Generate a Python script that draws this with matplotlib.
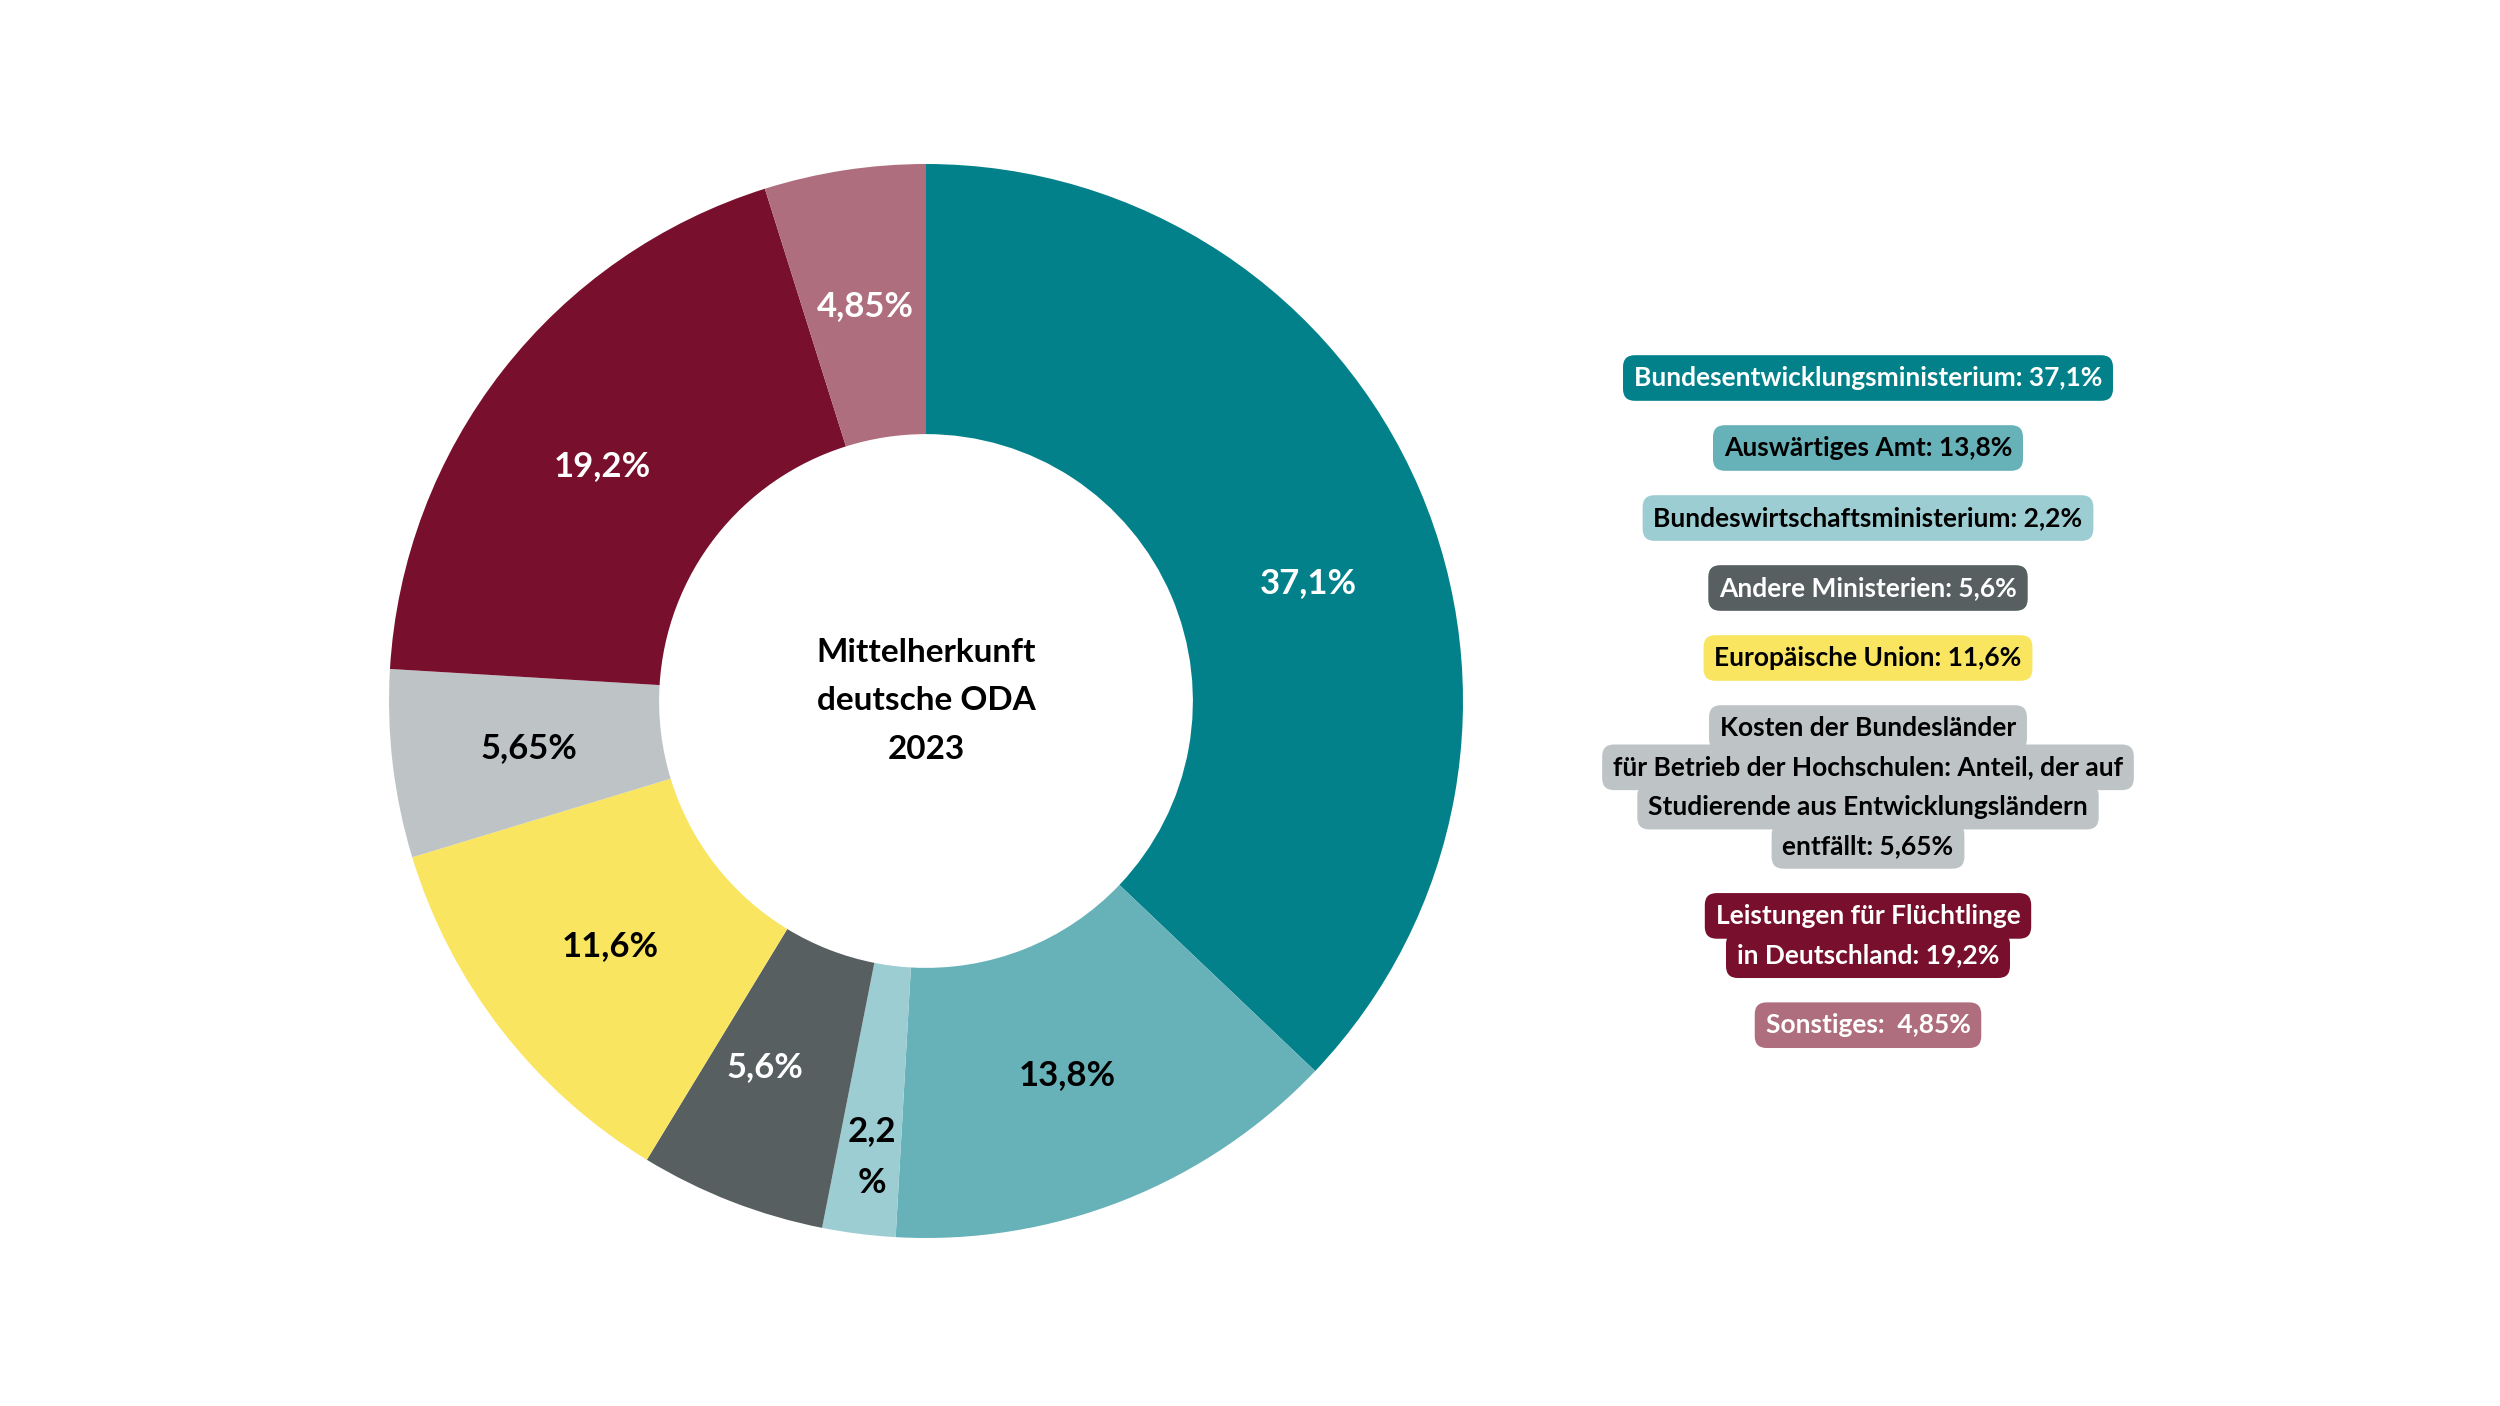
import matplotlib.pyplot as plt
import numpy as np

plt.rcParams['font.family'] = ['Lato', 'DejaVu Sans']

# data
names = ["Bundesentwicklungsministerium: 37,1%",
         "Auswärtiges Amt: 13,8%",
         "Bundeswirtschaftsministerium: 2,2%",
         "Andere Ministerien: 5,6%",
         "Europäische Union: 11,6%",
         "Kosten der Bundesländer\nfür Betrieb der Hochschulen: Anteil, der auf\nStudierende aus Entwicklungsländern\nentfällt: 5,65%",
         "Leistungen für Flüchtlinge\nin Deutschland: 19,2%",
         "Sonstiges:  4,85%"]
values = [37.1, 13.8, 2.2, 5.6, 11.6, 5.65, 19.2, 4.85]
pct_labels = ["37,1%", "13,8%", "2,2\n%", "5,6%", "11,6%", "5,65%", "19,2%", "4,85%"]
colors = ["#03818a", "#67b2b9", "#9ccdd2", "#575f61", "#f9e55f", "#bec4c6", "#780f2d", "#af6e7d"]
text_colors = ["white", "black", "black", "white", "black", "black", "white", "white"]
center_title = "Mittelherkunft\ndeutsche ODA\n2023"

W, H = 2500, 1406
fig = plt.figure(figsize=(W / 100, H / 100), dpi=100)

# donut
cx, cy, R = 926, 701, 537
ax = fig.add_axes([(cx - R) / W, (H - cy - R) / H, 2 * R / W, 2 * R / H])
wedges, _ = ax.pie(values, colors=colors, startangle=90, counterclock=False,
                   radius=1, wedgeprops=dict(width=0.503, linewidth=0))
ax.set_xlim(-1, 1)
ax.set_ylim(-1, 1)
ax.set_aspect('equal')
ax.axis('off')

# small manual nudges of label angle (deg), as in the original
ang_shift = [-6, -1, 0.5, -2.5, 0, 0, 2, 0]
cum = np.cumsum([0] + values)
for i, lab in enumerate(pct_labels):
    mid = (cum[i] + cum[i + 1]) / 2
    ang = np.deg2rad(90 - 360 * mid / 100 + ang_shift[i])
    r = 0.855 if "\n" in lab else 0.745
    ax.text(r * np.cos(ang), r * np.sin(ang), lab, ha='center', va='center',
            fontsize=25, fontweight='bold', color=text_colors[i], linespacing=1.8)

ax.text(0, 0, center_title, ha='center', va='center', fontsize=24,
        fontweight='bold', color='black', linespacing=1.8)

# legend boxes, one rounded box per line
lx = 1868 / W
y = 378
for i, name in enumerate(names):
    for line in name.split("\n"):
        fig.text(lx, 1 - y / H, line, ha='center', va='center',
                 fontsize=19, fontweight='bold', color=text_colors[i],
                 bbox=dict(boxstyle='round,pad=0.41,rounding_size=0.45',
                           fc=colors[i], ec='none'))
        y += 39.3
    y += 70 - 39.3

fig.savefig('out.png', dpi=100, facecolor='white')
